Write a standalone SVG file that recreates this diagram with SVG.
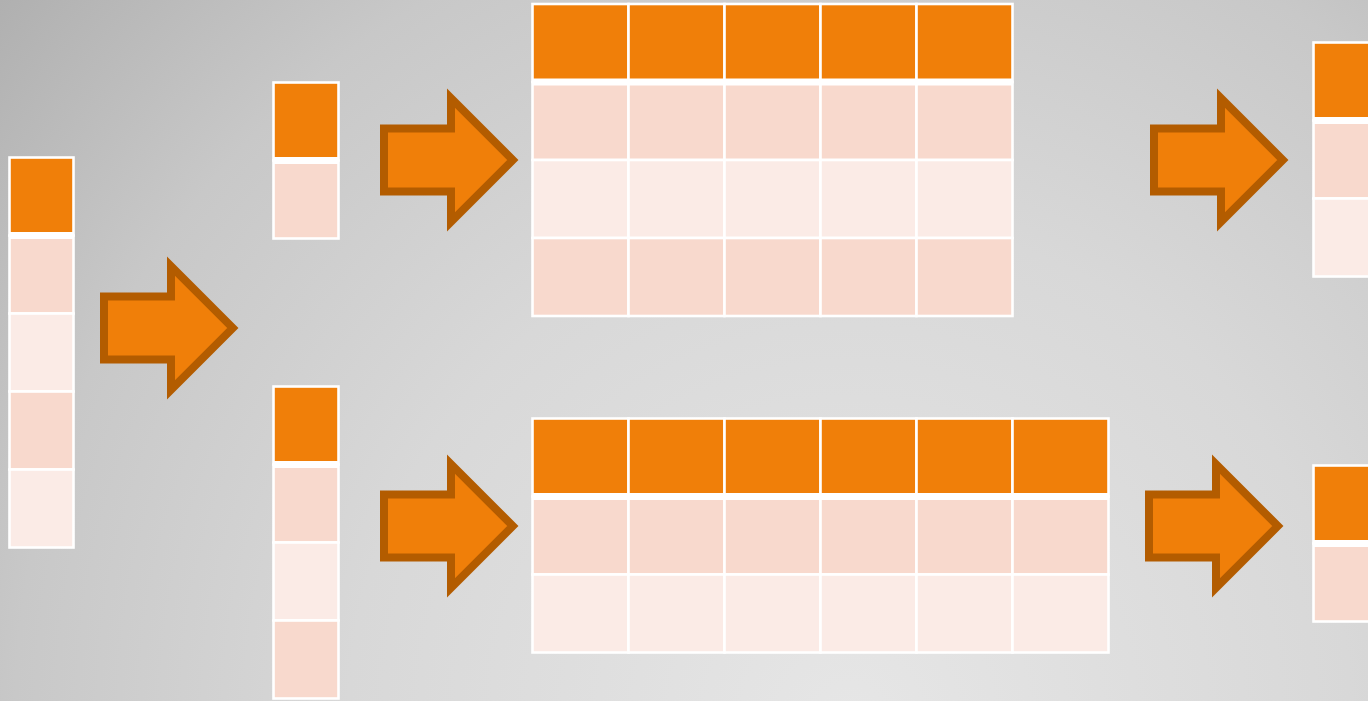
<svg xmlns="http://www.w3.org/2000/svg" xmlns:xlink="http://www.w3.org/1999/xlink" width="1368" height="701" viewBox="0 0 1368 701">
  <style>
    .cell { stroke: #ffffff; stroke-width: 2.6; }
    .hd { fill: #f07f09; }
    .pk { fill: #f8d9cd; }
    .lt { fill: #fbebe6; }
    .sep { stroke: #ffffff; stroke-width: 7; }
    .arrow { fill: #f07f09; stroke: #b35c00; stroke-width: 8; stroke-linejoin: miter; }
  </style>
  <defs>
    <radialGradient id="bg" gradientUnits="userSpaceOnUse" cx="850" cy="720" r="1113">
      <stop offset="0" stop-color="#e6e6e6"/>
      <stop offset="0.45" stop-color="#d8d8d8"/>
      <stop offset="0.75" stop-color="#c8c8c8"/>
      <stop offset="1" stop-color="#b0b0b0"/>
    </radialGradient>
    <!-- block arrow, origin at left edge / vertical centre -->
    <path id="blockArrow" d="M4,-31.5 H71 V-61.8 L132.8,0 L71,61.8 V31.5 H4 Z"/>
  </defs>

  <rect x="0" y="0" width="1368" height="701" fill="url(#bg)"/>

  <!-- source column -->
  <g id="source">
    <rect class="cell hd" x="9.5" y="157.5" width="64" height="78"/>
    <rect class="cell pk" x="9.5" y="235.5" width="64" height="78"/>
    <rect class="cell lt" x="9.5" y="313.5" width="64" height="78"/>
    <rect class="cell pk" x="9.5" y="391.5" width="64" height="78"/>
    <rect class="cell lt" x="9.5" y="469.5" width="64" height="78"/>
    <line class="sep" x1="9.5" y1="235.5" x2="73.5" y2="235.5"/>
  </g>

  <!-- split column, upper -->
  <g id="split-top">
    <rect class="cell hd" x="273.5" y="82.5" width="65" height="78"/>
    <rect class="cell pk" x="273.5" y="160.5" width="65" height="78"/>
    <line class="sep" x1="273.5" y1="160.5" x2="338.5" y2="160.5"/>
  </g>

  <!-- split column, lower -->
  <g id="split-bottom">
    <rect class="cell hd" x="273.5" y="386.5" width="65" height="78"/>
    <rect class="cell pk" x="273.5" y="464.5" width="65" height="78"/>
    <rect class="cell lt" x="273.5" y="542.5" width="65" height="78"/>
    <rect class="cell pk" x="273.5" y="620.5" width="65" height="78"/>
    <line class="sep" x1="273.5" y1="464.5" x2="338.5" y2="464.5"/>
  </g>

  <!-- wide table, upper: 5 columns x 4 rows -->
  <g id="table-top">
    <g class="cell hd">
      <rect x="532.5" y="4" width="96" height="78"/>
      <rect x="628.5" y="4" width="96" height="78"/>
      <rect x="724.5" y="4" width="96" height="78"/>
      <rect x="820.5" y="4" width="96" height="78"/>
      <rect x="916.5" y="4" width="96" height="78"/>
    </g>
    <g class="cell pk">
      <rect x="532.5" y="82" width="96" height="78"/>
      <rect x="628.5" y="82" width="96" height="78"/>
      <rect x="724.5" y="82" width="96" height="78"/>
      <rect x="820.5" y="82" width="96" height="78"/>
      <rect x="916.5" y="82" width="96" height="78"/>
    </g>
    <g class="cell lt">
      <rect x="532.5" y="160" width="96" height="78"/>
      <rect x="628.5" y="160" width="96" height="78"/>
      <rect x="724.5" y="160" width="96" height="78"/>
      <rect x="820.5" y="160" width="96" height="78"/>
      <rect x="916.5" y="160" width="96" height="78"/>
    </g>
    <g class="cell pk">
      <rect x="532.5" y="238" width="96" height="78"/>
      <rect x="628.5" y="238" width="96" height="78"/>
      <rect x="724.5" y="238" width="96" height="78"/>
      <rect x="820.5" y="238" width="96" height="78"/>
      <rect x="916.5" y="238" width="96" height="78"/>
    </g>
    <line class="sep" x1="532.5" y1="82" x2="1012.5" y2="82"/>
  </g>

  <!-- wide table, lower: 6 columns x 3 rows -->
  <g id="table-bottom">
    <g class="cell hd">
      <rect x="532.5" y="418.5" width="96" height="78"/>
      <rect x="628.5" y="418.5" width="96" height="78"/>
      <rect x="724.5" y="418.5" width="96" height="78"/>
      <rect x="820.5" y="418.5" width="96" height="78"/>
      <rect x="916.5" y="418.5" width="96" height="78"/>
      <rect x="1012.5" y="418.5" width="96" height="78"/>
    </g>
    <g class="cell pk">
      <rect x="532.5" y="496.5" width="96" height="78"/>
      <rect x="628.5" y="496.5" width="96" height="78"/>
      <rect x="724.5" y="496.5" width="96" height="78"/>
      <rect x="820.5" y="496.5" width="96" height="78"/>
      <rect x="916.5" y="496.5" width="96" height="78"/>
      <rect x="1012.5" y="496.5" width="96" height="78"/>
    </g>
    <g class="cell lt">
      <rect x="532.5" y="574.5" width="96" height="78"/>
      <rect x="628.5" y="574.5" width="96" height="78"/>
      <rect x="724.5" y="574.5" width="96" height="78"/>
      <rect x="820.5" y="574.5" width="96" height="78"/>
      <rect x="916.5" y="574.5" width="96" height="78"/>
      <rect x="1012.5" y="574.5" width="96" height="78"/>
    </g>
    <line class="sep" x1="532.5" y1="496.5" x2="1108.5" y2="496.5"/>
  </g>

  <!-- result columns at the right edge -->
  <g id="result-top">
    <rect class="cell hd" x="1313.5" y="42.5" width="96" height="78"/>
    <rect class="cell pk" x="1313.5" y="120.5" width="96" height="78"/>
    <rect class="cell lt" x="1313.5" y="198.5" width="96" height="78"/>
    <line class="sep" x1="1313.5" y1="120.5" x2="1409.5" y2="120.5"/>
  </g>
  <g id="result-bottom">
    <rect class="cell hd" x="1313.5" y="465.5" width="96" height="78"/>
    <rect class="cell pk" x="1313.5" y="543.5" width="96" height="78"/>
    <line class="sep" x1="1313.5" y1="543.5" x2="1409.5" y2="543.5"/>
  </g>

  <!-- connectors -->
  <g id="connectors">
    <use class="arrow" xlink:href="#blockArrow" transform="translate(100,328)"/>
    <use class="arrow" xlink:href="#blockArrow" transform="translate(380,160)"/>
    <use class="arrow" xlink:href="#blockArrow" transform="translate(1150,160)"/>
    <use class="arrow" xlink:href="#blockArrow" transform="translate(380,526)"/>
    <use class="arrow" xlink:href="#blockArrow" transform="translate(1145,526)"/>
  </g>
</svg>
